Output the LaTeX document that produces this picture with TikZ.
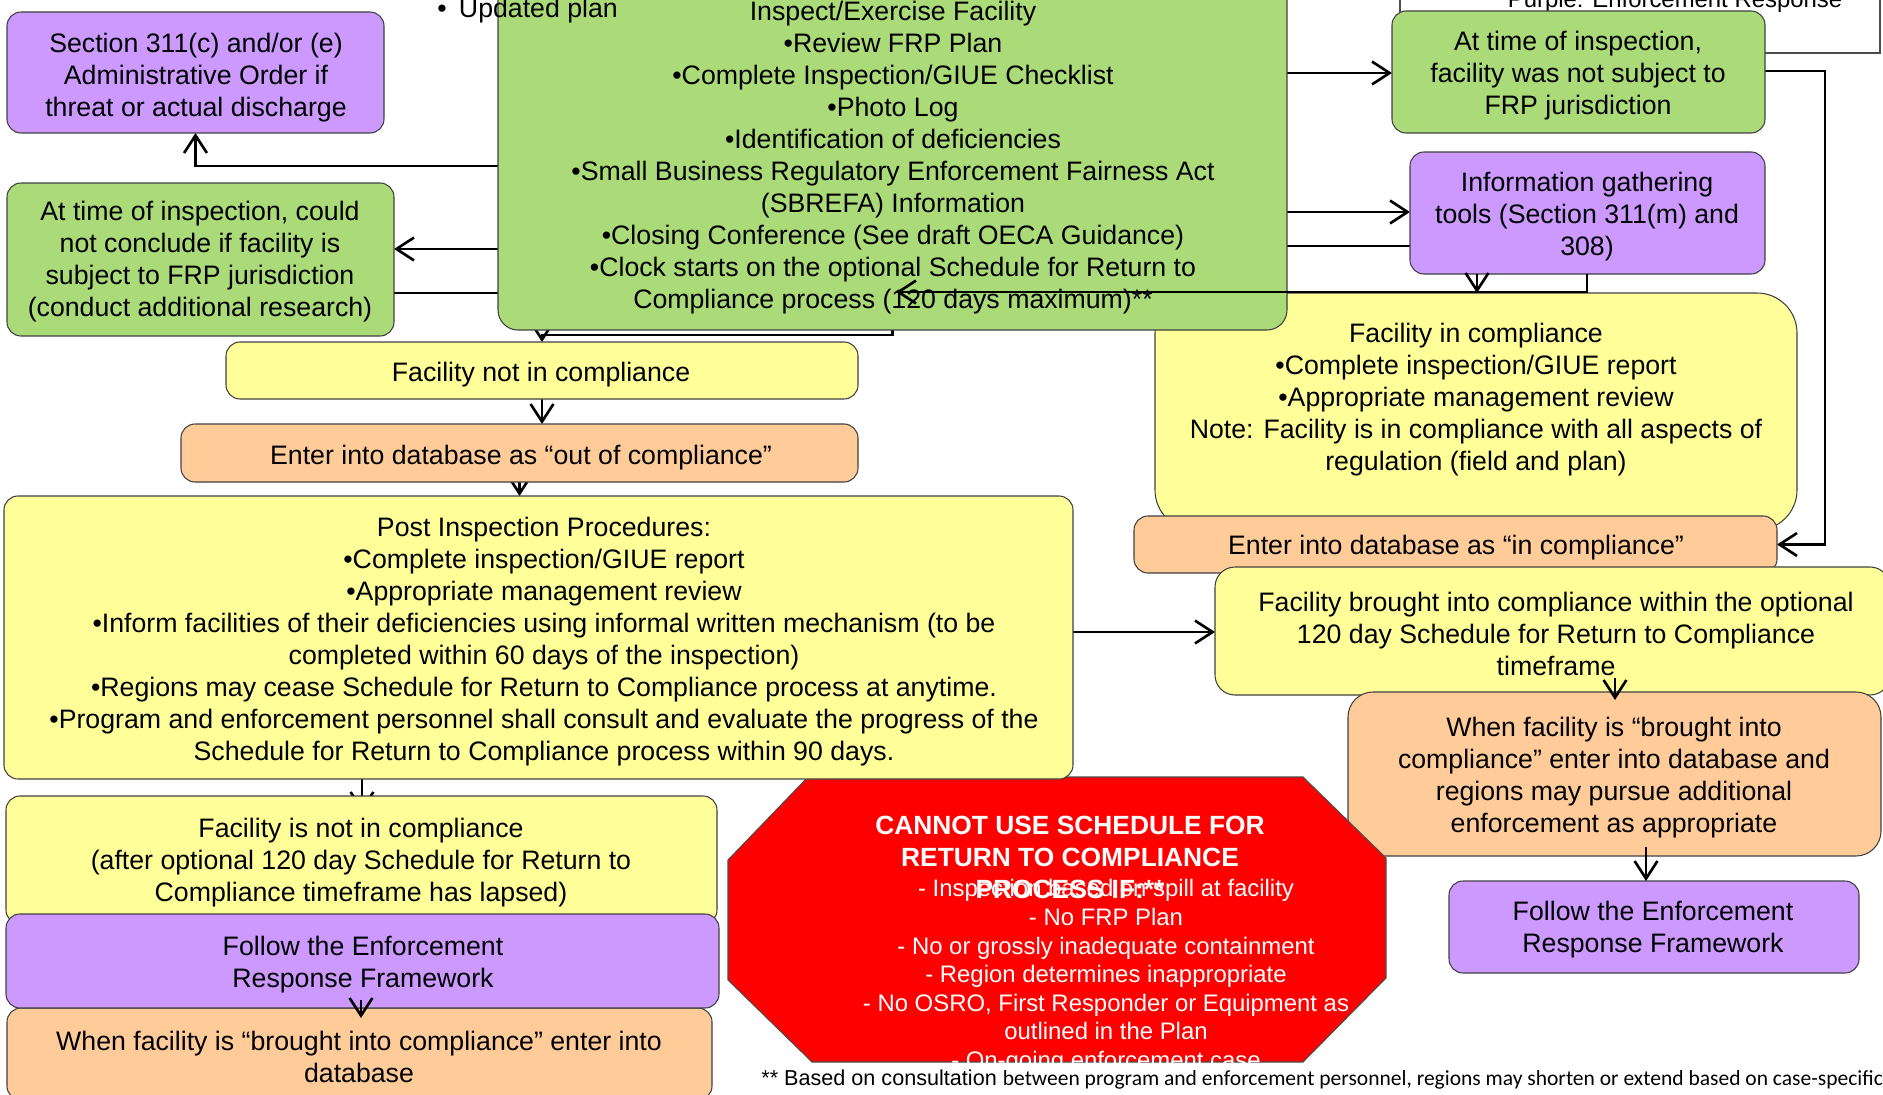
\documentclass[tikz,border=0pt]{standalone}
\usepackage{fontspec}
\setmainfont{Liberation Sans}
\newfontfamily\calibfont{Carlito}
\usetikzlibrary{arrows.meta,calc}
\pgfdeclarelayer{bg}
\pgfsetlayers{bg,main}
\definecolor{cpurple}{RGB}{204,153,255}
\definecolor{cgreen}{RGB}{170,219,120}
\definecolor{cyellow}{RGB}{255,255,153}
\definecolor{corange}{RGB}{255,204,153}
\newcommand\mkbox[6]{\node[box,#6,minimum width={((#4)-(#2))*0.02cm},minimum height={((#5)-(#3))*0.02cm}] (#1) at ({((#2)+(#4))/2},{((#3)+(#5))/2}) {};}
\begin{document}
\begin{tikzpicture}[x=0.02cm,y=-0.02cm,
  box/.style={draw=black!75, line width=0.6pt, inner sep=0pt, outer sep=0pt, rounded corners=0.28cm},
  txt/.style={align=center, inner sep=0pt, yshift=-0.05cm, font=\fontsize{15.2}{18.2}\selectfont},
  conn/.style={line width=1.5pt, -{Straight Barb[length=10pt,width=13pt]}},
  pline/.style={line width=1.5pt}]
\useasboundingbox (0,0) rectangle (1883,1095);
\clip (0,0) rectangle (1883,1095);

% legend
\mkbox{leg}{1400}{-60}{1880}{53}{fill=white, sharp corners, draw=black!70}
\node[anchor=base, inner sep=0pt, font=\fontsize{13.6}{16}\selectfont] (legt) at (1675,8) {Purple: Enforcement Response};

% right column
\mkbox{F}{1155}{293}{1797}{530}{fill=cyellow, rounded corners=0.8cm}
\node[txt] (Ft) at (1476,397) {Facility in compliance\\•Complete inspection/GIUE report\\•Appropriate management review\\Note: Facility is in compliance with all aspects of\\regulation (field and plan)};
\mkbox{G}{1134}{516}{1777}{573}{fill=corange}
\node[txt] (Gt) at (1456,545) {Enter into database as “in compliance”};
\mkbox{H}{1215}{567}{1890}{695}{fill=cyellow, rounded corners=0.4cm}
\node[txt] (Ht) at (1556,631.5) {Facility brought into compliance within the optional\\120 day Schedule for Return to Compliance\\timeframe};
\mkbox{I}{1348}{692}{1881}{856}{fill=corange, rounded corners=0.5cm}
\node[txt] (It) at (1614,775) {When facility is “brought into\\compliance” enter into database and\\regions may pursue additional\\enforcement as appropriate};

% octagon
\draw[fill=red, draw=black!70, line width=0.6pt] (808,777) -- (1303,777) -- (1386,858) -- (1386,978) -- (1303,1062) -- (812,1062) -- (728,980) -- (728,860) -- cycle;
\node[txt, text=white, font=\fontsize{15}{18.2}\selectfont\bfseries] (Qb) at (1070,855) {CANNOT USE SCHEDULE FOR\\RETURN TO COMPLIANCE\\PROCESS IF:**};
\node[txt, text=white, font=\fontsize{13.6}{16.3}\selectfont] (Qr) at (1106,974) {- Inspection based on spill at facility\\- No FRP Plan\\- No or grossly inadequate containment\\- Region determines inappropriate\\- No OSRO, First Responder or Equipment as\\outlined in the Plan\\- On-going enforcement case};

\mkbox{J}{1449}{881}{1859}{973}{fill=cpurple}
\node[txt] (Jt) at (1653,927.5) {Follow the Enforcement\\Response Framework};

% top
\mkbox{A}{7}{12}{384}{133}{fill=cpurple}
\node[txt] (At) at (196,75) {Section 311(c) and/or (e)\\Administrative Order if\\threat or actual discharge};
\mkbox{B}{7}{183}{394}{336}{fill=cgreen}
\node[txt] (Bt) at (200,259.5) {At time of inspection, could\\not conclude if facility is\\subject to FRP jurisdiction\\(conduct additional research)};
\mkbox{D}{1392}{11}{1765}{133}{fill=cgreen}
\node[txt] (Dt) at (1578,73.5) {At time of inspection,\\facility was not subject to\\FRP jurisdiction};
\mkbox{E}{1410}{152}{1765}{274}{fill=cpurple}
\node[txt] (Et) at (1587,214) {Information gathering\\tools (Section 311(m) and\\308)};
\mkbox{C}{498}{-20}{1287}{330}{fill=cgreen, rounded corners=0.4cm}
\node[txt] (Ct) at (893,155) {Inspect/Exercise Facility\\•Review FRP Plan\\•Complete Inspection/GIUE Checklist\\•Photo Log\\•Identification of deficiencies\\•Small Business Regulatory Enforcement Fairness Act\\(SBREFA) Information\\•Closing Conference (See draft OECA Guidance)\\•Clock starts on the optional Schedule for Return to\\Compliance process (120 days maximum)**};

% middle left
\mkbox{K}{226}{342}{858}{399}{fill=cyellow}
\node[txt] (Kt) at (541,372) {Facility not in compliance};
\mkbox{L}{181}{424}{858}{482}{fill=corange}
\node[txt] (Lt) at (521,455) {Enter into database as “out of compliance”};
\mkbox{M}{4}{496}{1073}{779}{fill=cyellow}
\node[txt] (Mt) at (544,639) {Post Inspection Procedures:\\•Complete inspection/GIUE report\\•Appropriate management review\\•Inform facilities of their deficiencies using informal written mechanism (to be\\completed within 60 days of the inspection)\\•Regions may cease Schedule for Return to Compliance process at anytime.\\•Program and enforcement personnel shall consult and evaluate the progress of the\\Schedule for Return to Compliance process within 90 days.};

% bottom left
\mkbox{N}{6}{796}{717}{924}{fill=cyellow}
\node[txt] (Nt) at (361,860) {Facility is not in compliance\\(after optional 120 day Schedule for Return to\\Compliance timeframe has lapsed)};
\mkbox{P}{7}{1008}{712}{1100}{fill=corange}
\node[txt] (Pt) at (359,1054) {When facility is “brought into compliance” enter into\\database};
\mkbox{O}{6}{914}{719}{1008}{fill=cpurple}
\node[txt] (Ot) at (363,962.5) {Follow the Enforcement\\Response Framework};

% connectors behind boxes
\begin{pgfonlayer}{bg}
\draw[conn] (C.west |- 0,166) -| (A.south);
\draw[conn] (C.west |- 0,249) -- (B.east |- 0,249);
\draw[pline] (B.east |- 0,293) -- (C.west |- 0,293);
\draw[conn] (C.south) -- ++(0,5) -| (K.north);
\draw[conn] (C.east |- 0,73) -- (D.west |- 0,73);
\draw[conn] (C.east |- 0,212) -- (E.west |- 0,212);
\draw[pline] (E.west |- 0,246) -- (C.east |- 0,246);
\draw[conn] (D.east |- 0,71) -| (1825,544.5) -- (G.east);
\draw[conn] (K.south) -- (K.south |- L.north);
\draw[conn] (L.south) -- (L.south |- M.north);
\draw[conn] (M.east |- 0,632) -- (H.west |- 0,632);
\coordinate (ntip) at (362,812);
\draw[conn] (M.south -| ntip) -- (ntip);
\end{pgfonlayer}

% connectors in front
\coordinate (ctip) at (896,292);
\draw[conn] (E.south -| 1587,0) |- (ctip);
\draw[conn] (E.south -| 1477,0) -- (F.north -| 1477,0);
\draw[conn] ($(H.south -| 1615,0)+(0,-17)$) -- ($(I.north -| 1615,0)+(0,8)$);
\draw[conn] ($(O.south -| 361,0)+(0,-8)$) -- ($(P.north -| 361,0)+(0,10)$);
\draw[conn] ($(I.south -| 1646,0)+(0,-9)$) -- (J.north -| 1646,0);

% loose texts
\node[anchor=base west, inner sep=0pt, font=\fontsize{15.2}{18.2}\selectfont] (upd) at (437,18) {•\hspace{7pt}Updated plan};
\node[anchor=base west, inner sep=0pt] (fn) at (761,1085) {\fontsize{12.3}{14}\selectfont ** Based on consultation {\calibfont\fontsize{12.25}{14}\selectfont between program and enforcement personnel, regions may shorten or extend based on case-specific}};
\end{tikzpicture}
\end{document}
